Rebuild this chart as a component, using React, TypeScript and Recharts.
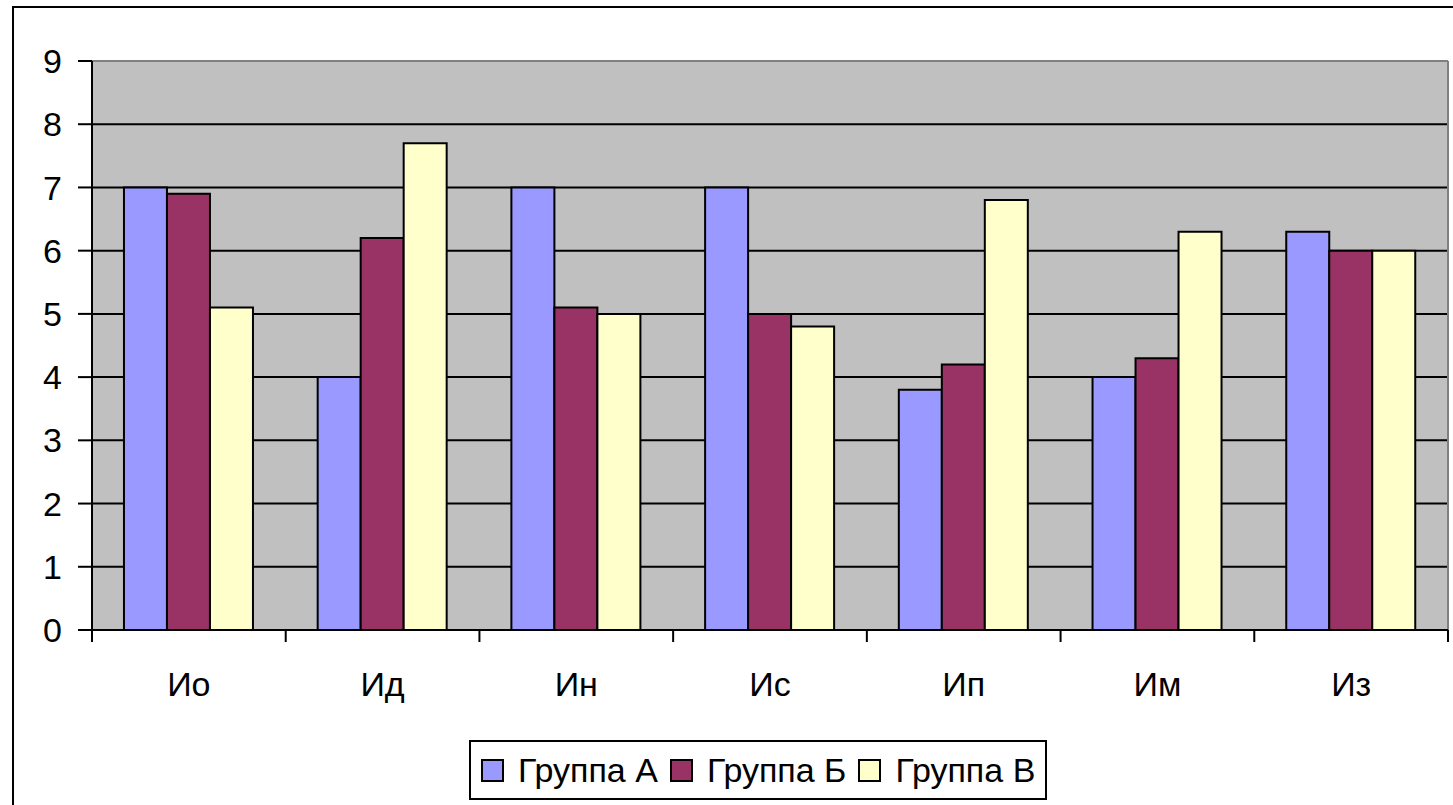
import React from 'react';
import { BarChart, Bar, XAxis, YAxis, CartesianGrid, Legend } from 'recharts';

const categories = ['Ио', 'Ид', 'Ин', 'Ис', 'Ип', 'Им', 'Из'];
const groupA = [7, 4, 7, 7, 3.8, 4, 6.3];
const groupB = [6.9, 6.2, 5.1, 5.0, 4.2, 4.3, 6.0];
const groupV = [5.1, 7.7, 5.0, 4.8, 6.8, 6.3, 6.0];
const seriesNames = ['Группа А', 'Группа Б', 'Группа В'];
const seriesColors = ['#9999FF', '#993366', '#FFFFCC'];
const yTicks = [0, 1, 2, 3, 4, 5, 6, 7, 8, 9];

const data = categories.map((c, i) => ({
  name: c,
  a: groupA[i],
  b: groupB[i],
  v: groupV[i],
}));
const keys = ['a', 'b', 'v'];

const FONT = '"Liberation Sans", Arial, sans-serif';

const XTick = (props: any) => {
  const { x, y, payload, index } = props;
  const half = payload && typeof payload.offset === 'number' && payload.offset > 0 ? payload.offset : 96.86;
  const last = index === categories.length - 1;
  return (
    <g>
      <line x1={x - half} x2={x - half} y1={y} y2={y + 12} stroke="#000" strokeWidth={2} />
      {last && <line x1={x + half} x2={x + half} y1={y} y2={y + 12} stroke="#000" strokeWidth={2} />}
      <text x={x} y={y + 66} textAnchor="middle" fontFamily={FONT} fontSize={34} fill="#000">
        {payload.value}
      </text>
    </g>
  );
};

const LegendBox = () => (
  <div
    style={{
      display: 'inline-flex',
      alignItems: 'center',
      boxSizing: 'border-box',
      height: 60,
      border: '2px solid #000',
      background: '#fff',
      paddingLeft: 10,
      paddingRight: 10,
      fontFamily: FONT,
      fontSize: 34,
      color: '#000',
      whiteSpace: 'nowrap',
      lineHeight: 1,
    }}
  >
    {seriesNames.map((n, i) => (
      <span
        key={n}
        style={{ display: 'inline-flex', alignItems: 'center', marginRight: i < seriesNames.length - 1 ? 12 : 0 }}
      >
        <span
          style={{
            display: 'inline-block',
            width: 19,
            height: 19,
            border: '2px solid #000',
            background: seriesColors[i],
            marginRight: 14,
          }}
        />
        <span>{n}</span>
      </span>
    ))}
  </div>
);

export default function App() {
  return (
    <div style={{ position: 'absolute', left: 0, top: 0, width: 1453, height: 805, overflow: 'hidden', background: '#fff' }}>
      <div
        style={{
          position: 'absolute',
          left: 12,
          top: 6,
          width: 1500,
          height: 900,
          border: '2px solid #000',
          boxSizing: 'border-box',
        }}
      />
      <div style={{ position: 'absolute', left: 0, top: 0 }}>
        <BarChart
          width={1453}
          height={805}
          data={data}
          margin={{ top: 61, right: 5, left: 0, bottom: 0 }}
          barCategoryGap="16.5%"
          barGap={0}
        >
          <CartesianGrid vertical={false} stroke="#000" strokeWidth={2} fill="#C0C0C0" fillOpacity={1} />
          <CartesianGrid
            stroke="#808080"
            strokeWidth={2}
            horizontalCoordinatesGenerator={(p: any) => [p.offset.top]}
            verticalCoordinatesGenerator={(p: any) => [p.offset.left + p.offset.width]}
          />
          <XAxis
            dataKey="name"
            height={175}
            axisLine={{ stroke: '#000', strokeWidth: 2 }}
            tickLine={false}
            tickSize={0}
            tickMargin={0}
            tick={<XTick />}
            interval={0}
          />
          <YAxis
            width={92}
            domain={[0, 9]}
            ticks={yTicks}
            interval={0}
            axisLine={{ stroke: '#000', strokeWidth: 2 }}
            tickLine={{ stroke: '#000', strokeWidth: 2 }}
            tickSize={14}
            tickMargin={16}
            tick={{ fill: '#000', fontFamily: FONT, fontSize: 34 }}
          />
          {keys.map((k, i) => (
            <Bar
              key={k}
              dataKey={k}
              name={seriesNames[i]}
              fill={seriesColors[i]}
              stroke="#000"
              strokeWidth={2}
              isAnimationActive={false}
            />
          ))}
          <Legend
            layout="horizontal"
            verticalAlign="middle"
            align="center"
            content={<LegendBox />}
            wrapperStyle={{ left: 469, top: 740, width: 'auto', height: 'auto' }}
          />
        </BarChart>
      </div>
    </div>
  );
}
